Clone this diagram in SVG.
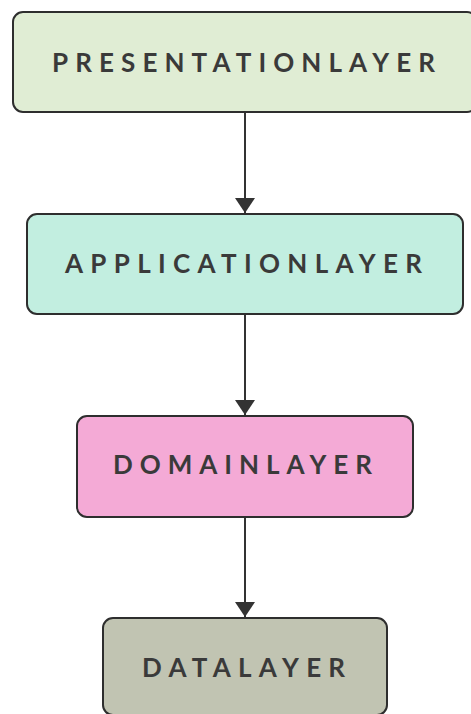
<svg xmlns="http://www.w3.org/2000/svg" width="471" height="714" viewBox="0 0 471 714">
  <style>
    .box { stroke: #2e2e2e; stroke-width: 2; }
    .label { font-family: Lato, "Open Sans", "DejaVu Sans", sans-serif; font-weight: bold; font-size: 26px; fill: #3a3a3a; }
    .edge { stroke: #333; stroke-width: 2; fill: none; }
  </style>
  <defs>
    <marker id="arrow" markerUnits="userSpaceOnUse" markerWidth="16" markerHeight="20" refX="15" refY="10" orient="auto">
      <path d="M0,0 L15,10 L0,20 Z" fill="#333"/>
    </marker>
  </defs>
  <rect width="471" height="714" fill="#fff"/>

  <g id="connectors">
    <line class="edge" x1="245" y1="113" x2="245" y2="213" marker-end="url(#arrow)"/>
    <line class="edge" x1="245" y1="315" x2="245" y2="415" marker-end="url(#arrow)"/>
    <line class="edge" x1="245" y1="518" x2="245" y2="617" marker-end="url(#arrow)"/>
  </g>

  <g id="presentation">
    <rect class="box" x="13" y="12" width="464" height="100" rx="10" fill="#e0edd4"/>
    <text class="label" x="52" y="72" textLength="383" lengthAdjust="spacing">PRESENTATIONLAYER</text>
  </g>

  <g id="application">
    <rect class="box" x="27" y="214" width="436" height="100" rx="10" fill="#c2eee0"/>
    <text class="label" x="65" y="273" textLength="357" lengthAdjust="spacing">APPLICATIONLAYER</text>
  </g>

  <g id="domain">
    <rect class="box" x="77" y="416" width="336" height="101" rx="10" fill="#f4aad6"/>
    <text class="label" x="113" y="474" textLength="259" lengthAdjust="spacing">DOMAINLAYER</text>
  </g>

  <g id="data">
    <rect class="box" x="103" y="618" width="284" height="97" rx="10" fill="#c1c4b2"/>
    <text class="label" x="142" y="677" textLength="203" lengthAdjust="spacing">DATALAYER</text>
  </g>
</svg>
